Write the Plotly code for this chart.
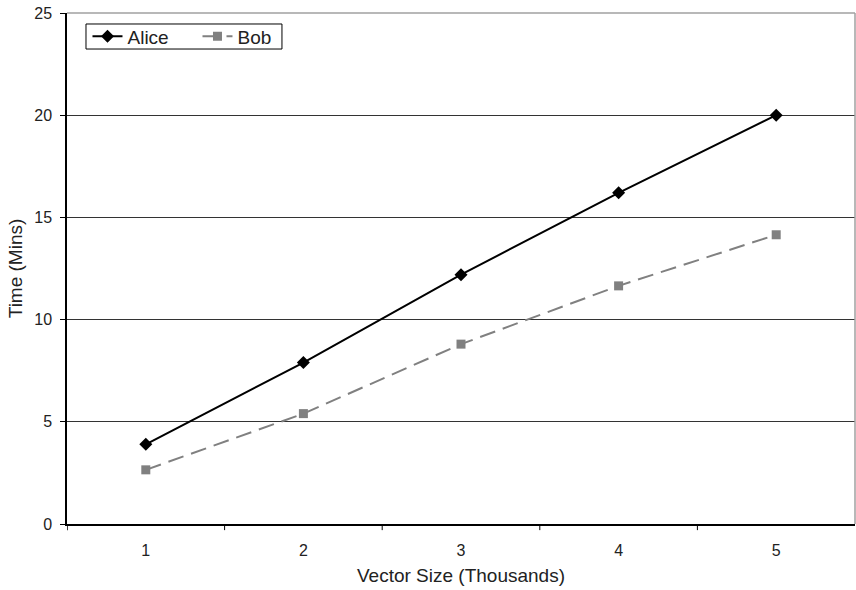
import plotly.graph_objects as go

# Vector sizes (thousands) and run times (minutes)
sizes = [1, 2, 3, 4, 5]
alice_times = [3.9, 7.9, 12.2, 16.2, 20.0]
bob_times = [2.65, 5.4, 8.8, 11.65, 14.15]

y_ticks = [0, 5, 10, 15, 20, 25]

font = dict(family="Liberation Sans, Arial, sans-serif", size=16, color="#222")

fig = go.Figure()
fig.add_trace(go.Scatter(
    x=sizes, y=alice_times, name="Alice", mode="lines+markers",
    line=dict(color="black", width=2),
    marker=dict(symbol="diamond", size=10, color="black"),
))
fig.add_trace(go.Scatter(
    x=sizes, y=bob_times, name="Bob", mode="lines+markers",
    line=dict(color="#808080", width=2, dash="16px,8px"),
    marker=dict(symbol="square", size=9, color="#808080"),
))

fig.update_layout(
    width=856, height=590,
    margin=dict(l=67, r=1, t=13, b=66),
    paper_bgcolor="white", plot_bgcolor="white",
    font=font,
    showlegend=True,
    legend=dict(
        x=0.026, y=0.954, xanchor="left", yanchor="middle",
        orientation="h", bgcolor="rgba(0,0,0,0)",
        borderwidth=0,
        font=dict(size=19, color="#222"),
        entrywidth=65, entrywidthmode="pixels",
        tracegroupgap=0,
    ),
    xaxis=dict(
        range=[0.5, 5.5],
        tickvals=sizes, ticktext=[str(s) for s in sizes],
        ticks="", showgrid=False, zeroline=False,
        ticklabelstandoff=11,
        showline=True, linecolor="black", linewidth=1.5,
        title=dict(text="Vector Size (Thousands)", standoff=11),
        tickfont=font,
    ),
    yaxis=dict(
        range=[0, 25], tickvals=y_ticks,
        ticks="outside", ticklen=5, tickcolor="black",
        ticklabelstandoff=5,
        showgrid=True, gridcolor="#333", gridwidth=1,
        zeroline=False,
        showline=True, linecolor="black", linewidth=1.5,
        title=dict(text="Time (Mins)", standoff=7),
        tickfont=font,
    ),
)

# Compact frame around the legend
fig.add_shape(type="rect", xref="paper", yref="paper",
              x0=0.0241, x1=0.2728, y0=0.9295, y1=0.9785,
              fillcolor="white", line=dict(color="black", width=1))

# Category boundary tick marks on the x axis
for b in [1.5, 2.5, 3.5, 4.5]:
    fig.add_shape(type="line", xref="x", yref="paper",
                  x0=b, x1=b, y0=0, y1=-0.012,
                  line=dict(color="black", width=1))
fig.add_shape(type="line", xref="x", yref="paper",
              x0=0.5, x1=0.5, y0=0, y1=-0.012,
              line=dict(color="black", width=1.5))

# Light plot-area frame on the top and right edges
fig.add_shape(type="line", xref="paper", yref="paper",
              x0=0, x1=1, y0=1, y1=1, layer="above",
              line=dict(color="#a0a0a0", width=1.5))
fig.add_shape(type="line", xref="paper", yref="paper",
              x0=1, x1=1, y0=0, y1=1, layer="above",
              line=dict(color="#a0a0a0", width=1.5))

fig.write_html("out.html")
